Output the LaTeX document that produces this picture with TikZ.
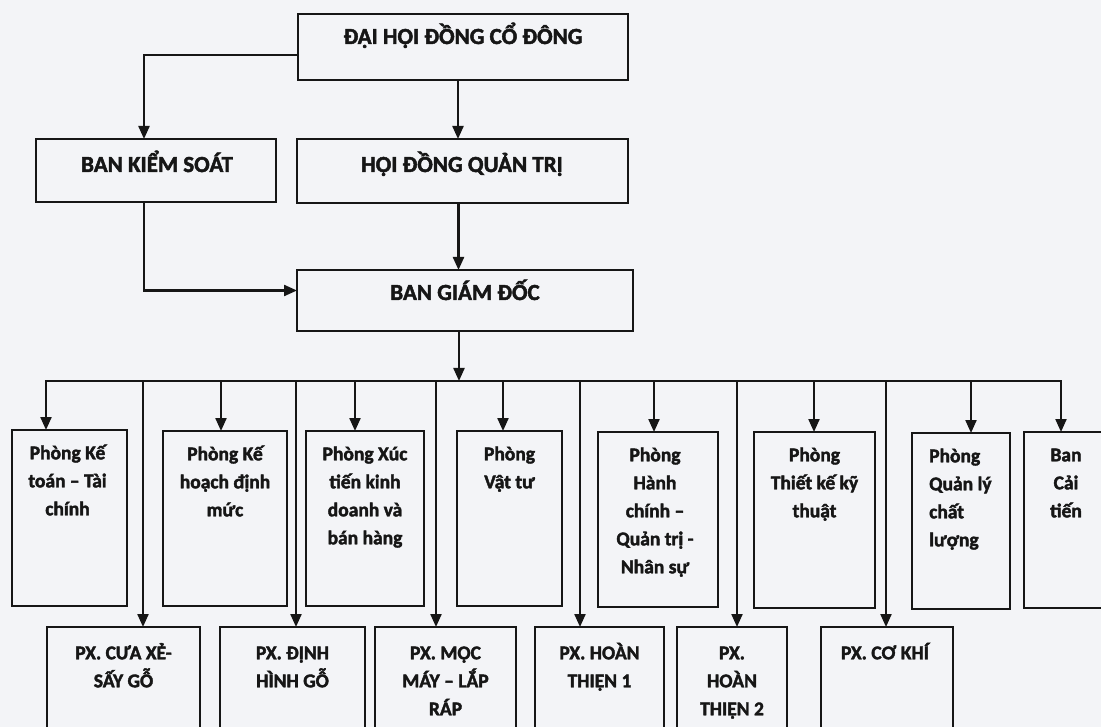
\documentclass[tikz,border=0pt]{standalone}
\usepackage{fontspec}
\setmainfont{Carlito}[BoldFeatures={FakeBold=2}]
\usetikzlibrary{arrows.meta}
\definecolor{bg}{RGB}{243,244,247}
\definecolor{ink}{RGB}{22,22,22}
\begin{document}
\begin{tikzpicture}[x=1pt,y=-1pt,
  box/.style={draw=ink, line width=2.2pt, rectangle, inner sep=0pt, outer sep=0pt, anchor=north west},
  big/.style={font=\bfseries\fontsize{23}{27}\selectfont, anchor=base, inner sep=0pt, text=ink},
  small/.style={font=\bfseries\fontsize{19.5}{28}\selectfont, anchor=north, inner sep=0pt, align=center, text=ink},
  arr/.style={draw=ink, line width=2.2pt, -{Triangle[width=11pt,length=13pt]}},
  ln/.style={draw=ink, line width=2.2pt, line cap=rect}]
\useasboundingbox (0,0) rectangle (1101,727);
\fill[bg] (0,0) rectangle (1101,727);
\clip (0,0) rectangle (1101,727);

% top levels
\node[box, minimum width=330pt, minimum height=66pt] (dh) at (298,14) {};
\node[box, minimum width=240pt, minimum height=63pt] (bks) at (36,139) {};
\node[box, minimum width=331pt, minimum height=64pt] (hq) at (297,139) {};
\node[box, minimum width=336pt, minimum height=61pt] (bgd) at (297,270) {};
\node[big] (tdh) at (463,44) {ĐẠI HỘI ĐỒNG CỔ ĐÔNG};
\node[big] (tbks) at (157,172) {BAN KIỂM SOÁT};
\node[big] (thq) at (462,172) {HỘI ĐỒNG QUẢN TRỊ};
\node[big] (tbgd) at (465,300) {BAN GIÁM ĐỐC};

% row 1
\node[box, minimum width=115pt, minimum height=176pt] (r1) at (12,430) {};
\node[box, minimum width=124pt, minimum height=175pt] (r2) at (163,431) {};
\node[box, minimum width=118pt, minimum height=175pt] (r3) at (306,431) {};
\node[box, minimum width=105pt, minimum height=175pt] (r4) at (457,431) {};
\node[box, minimum width=120pt, minimum height=175pt] (r5) at (598,432) {};
\node[box, minimum width=121pt, minimum height=176pt] (r6) at (754,432) {};
\node[box, minimum width=98pt, minimum height=176pt] (r7) at (912,433) {};
\node[box, minimum width=90pt, minimum height=176pt] (r8) at (1024,432) {};

% row 2
\node[box, minimum width=153pt, minimum height=140pt] (p1) at (47,627) {};
\node[box, minimum width=145pt, minimum height=140pt] (p2) at (220,627) {};
\node[box, minimum width=141pt, minimum height=140pt] (p3) at (375,627) {};
\node[box, minimum width=129pt, minimum height=140pt] (p4) at (535,627) {};
\node[box, minimum width=110pt, minimum height=140pt] (p5) at (677,627) {};
\node[box, minimum width=132pt, minimum height=140pt] (p6) at (821,627) {};

% row 1 texts
\node[small] (t1) at ([xshift=-2pt,yshift=-9.5pt]r1.north) {\strut Phòng Kế\\toán – Tài\\chính};
\node[small] (t2) at ([yshift=-9.5pt]r2.north) {\strut Phòng Kế\\hoạch định\\mức};
\node[small] (t3) at ([yshift=-9.5pt]r3.north) {\strut Phòng Xúc\\tiến kinh\\doanh và\\bán hàng};
\node[small] (t4) at ([yshift=-9.5pt]r4.north) {\strut Phòng\\Vật tư};
\node[small] (t5) at ([xshift=-3pt,yshift=-9.5pt]r5.north) {\strut Phòng\\Hành\\chính –\\Quản trị -\\Nhân sự};
\node[small] (t6) at ([yshift=-9.5pt]r6.north) {\strut Phòng\\Thiết kế kỹ\\thuật};
\node[small, anchor=north west, align=left] (t7) at ([xshift=17pt,yshift=-9.5pt]r7.north west) {\strut Phòng\\Quản lý\\chất\\lượng};
\node[small] (t8) at (1066,441.5) {\strut Ban\\Cải\\tiến};

% row 2 texts
\node[small] (u1) at ([yshift=-12.5pt]p1.north) {\strut PX. CƯA XẺ-\\SẤY GỖ};
\node[small] (u2) at ([yshift=-12.5pt]p2.north) {\strut PX. ĐỊNH\\HÌNH GỖ};
\node[small] (u3) at ([yshift=-12.5pt]p3.north) {\strut PX. MỘC\\MÁY – LẮP\\RÁP};
\node[small] (u4) at ([yshift=-12.5pt]p4.north) {\strut PX. HOÀN\\THIỆN 1};
\node[small] (u5) at ([yshift=-12.5pt]p5.north) {\strut PX.\\HOÀN\\THIỆN 2};
\node[small] (u6) at ([xshift=-2pt,yshift=-12.5pt]p6.north) {\strut PX. CƠ KHÍ};

% connectors
\draw[arr] ([yshift=-8pt]dh.west) -| ([xshift=-12pt]bks.north);
\draw[arr] ([xshift=-5pt]dh.south) -- ([xshift=-5pt]dh.south |- hq.north);
\draw[arr] ([xshift=-4pt]hq.south) -- ([xshift=-4pt]hq.south |- bgd.north);
\draw[arr] ([xshift=-12pt]bks.south) |- ([yshift=10pt]bgd.west);
\coordinate (bus) at (459,381);
\coordinate (busL) at (46,381);
\coordinate (busR) at (1061,381);
\draw[arr] ([xshift=-6pt]bgd.south) -- (bus);
\draw[ln] (busL) -- (busR);
\foreach \x/\n in {46/r1,221/r2,355/r3,503/r4,654/r5,814/r6,971/r7,1061/r8,143/p1,296/p2,436/p3,580/p4,737/p5,886/p6}{
  \coordinate (d\n) at (\x,381);
  \draw[arr] (d\n) -- (d\n |- \n.north);
}
\end{tikzpicture}
\end{document}
